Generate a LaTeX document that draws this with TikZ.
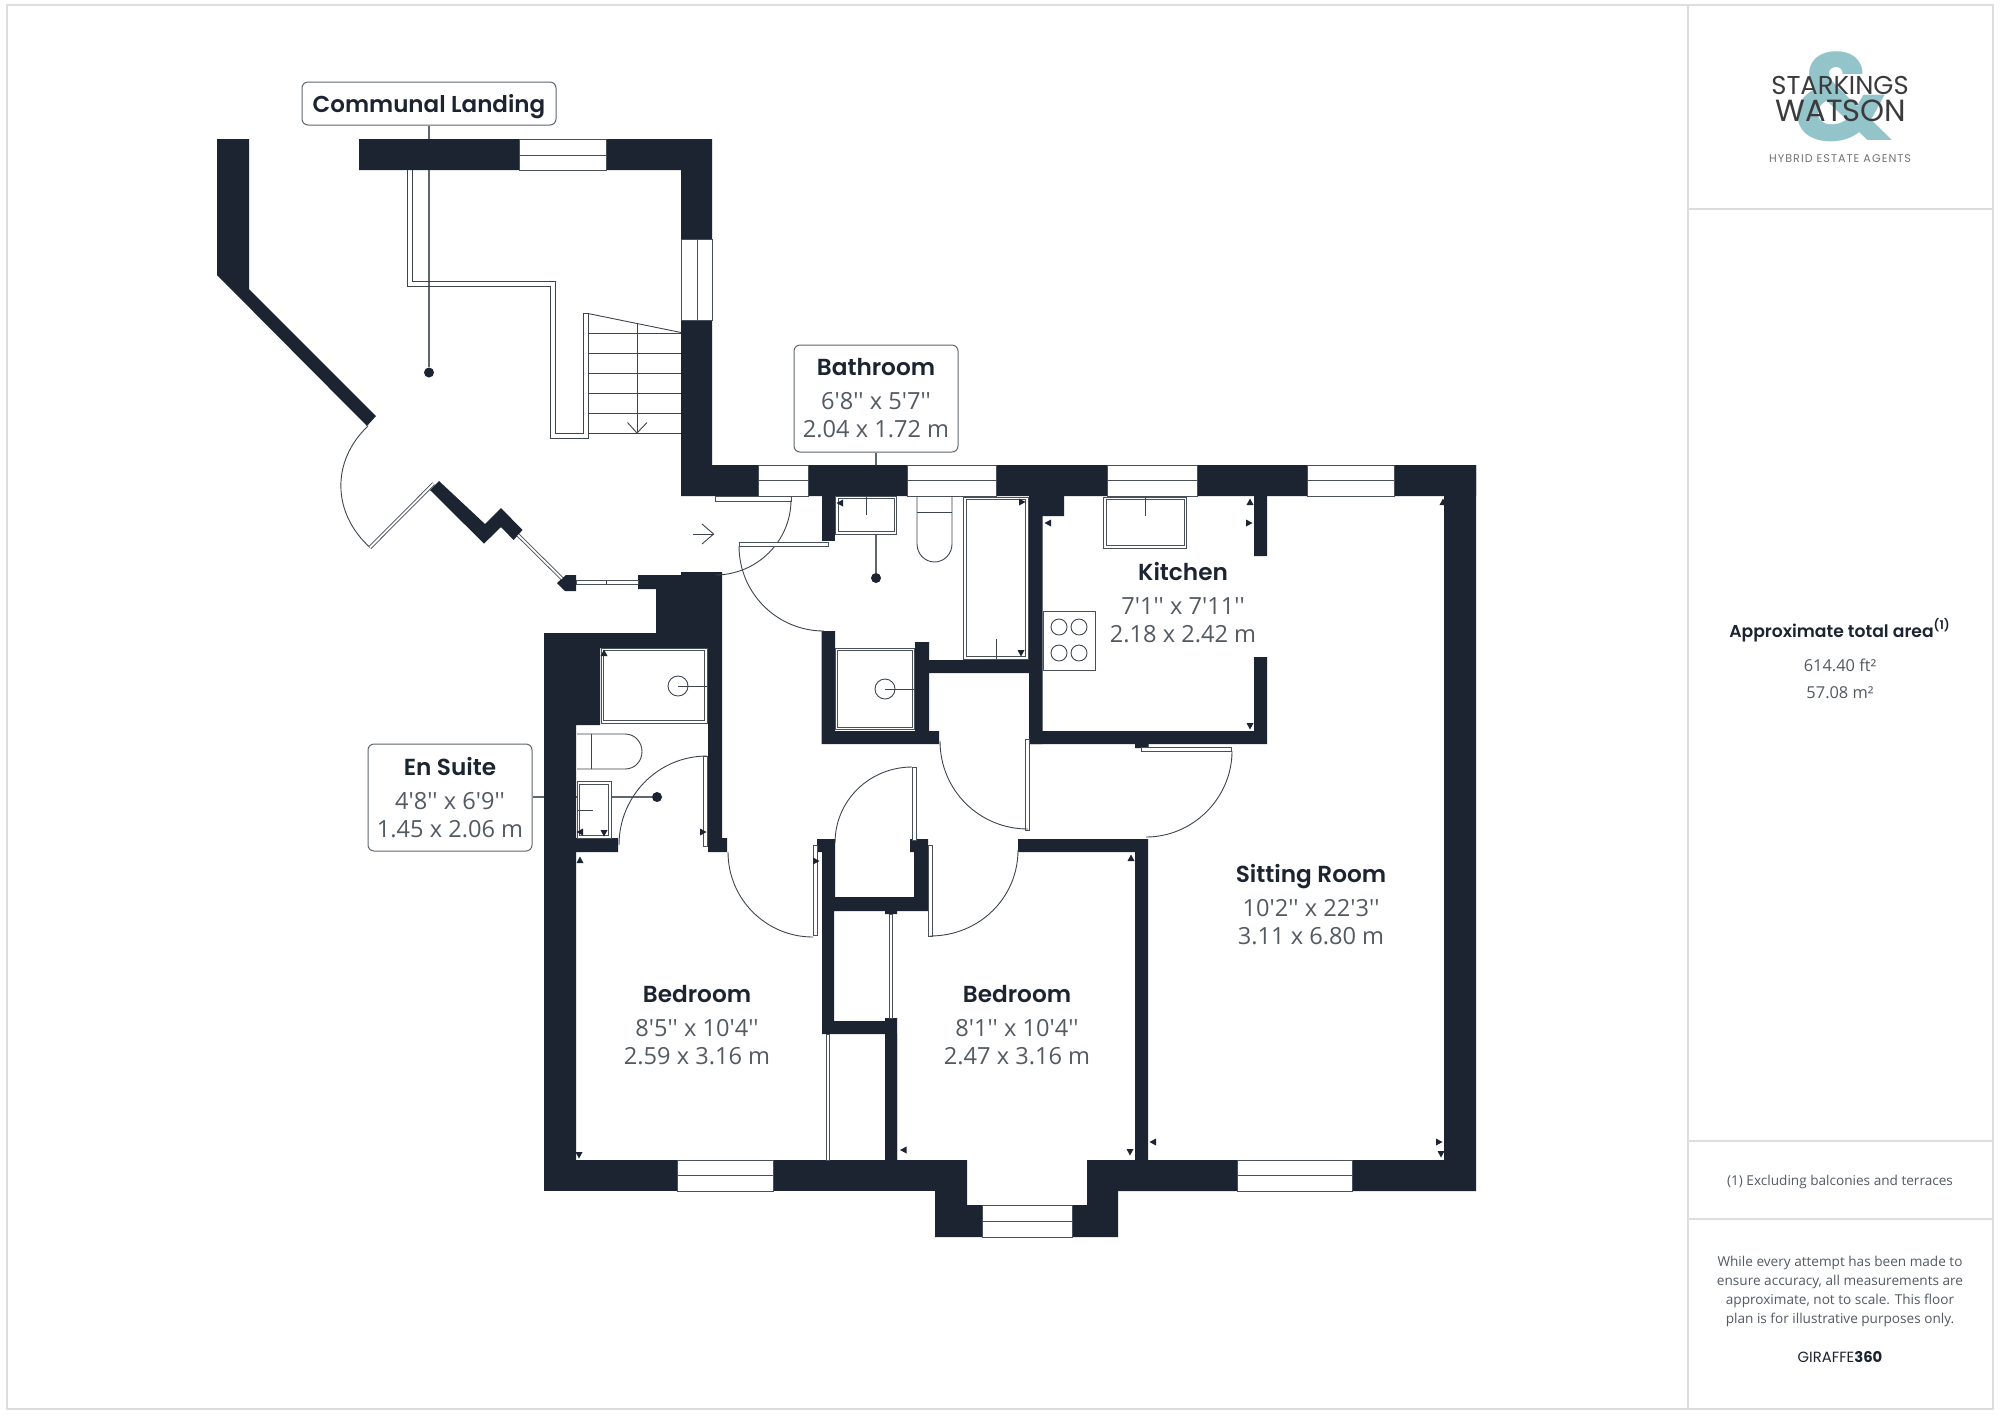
\documentclass[tikz,border=0pt]{standalone}
\usepackage{fontspec}
\setmainfont{Open Sans}
\newfontfamily\dimfont{Open Sans}
\newfontfamily\namefont{Poppins SemiBold}
\newfontfamily\logofont{Poppins}
\newfontfamily\tagfont{Poppins}[LetterSpace=9]
\definecolor{walldark}{HTML}{1B2430}
\definecolor{dimgray}{HTML}{535A62}
\definecolor{framegray}{HTML}{DDDDDD}
\definecolor{logoteal}{HTML}{93C4C9}
\definecolor{logodark}{HTML}{3B3B3D}
\newcommand{\roomtext}[3]{{\namefont\color{walldark}\fontsize{11.6}{14.2}\selectfont#1}\\[2.6pt]{\dimfont\color{dimgray}#2}\\{\dimfont\color{dimgray}#3}}
\tikzset{
  wall/.style={fill=walldark},
  pane/.style={draw=walldark!80,line width=0.45pt,fill=white},
  thinline/.style={draw=walldark!85,line width=0.45pt},
  labelbox/.style={draw=walldark!70,line width=0.5pt,rounded corners=3pt,fill=white,align=center,inner sep=0pt,font=\fontsize{11.8}{14.2}\selectfont},
  roomlabel/.style={align=center,inner sep=0pt,font=\fontsize{11.8}{14.2}\selectfont},
  leader/.style={draw=walldark!70,line width=0.6pt},
  pin/.style={circle,fill=walldark,inner sep=0pt,minimum size=5pt},
  framing/.style={draw=framegray,line width=1pt},
  sidetext/.style={font=\fontsize{6.8}{9.5}\selectfont,text=dimgray,align=center,inner sep=0pt},
  areatext/.style={font=\dimfont\fontsize{8.2}{10}\selectfont,text=dimgray,inner sep=0pt}
}
\begin{document}
\begin{tikzpicture}[x=0.5pt,y=-0.5pt]
\path[use as bounding box,fill=white] (0,0) rectangle (2000,1415);
% page frame
\draw[framing] (7,5) rectangle (1993,1409);
\draw[framing] (1688,5)--(1688,1409);
\draw[framing] (1688,209)--(1993,209);
\draw[framing] (1688,1141)--(1993,1141);
\draw[framing] (1688,1219)--(1993,1219);
% leaders
\node[pin] (landingdot) at (429,372.5) {};
\node[pin] (bathdot) at (876,578) {};
\node[pin] (suitedot) at (657,797) {};
\node[labelbox,text depth=0.5pt,minimum width=127pt,minimum height=21.5pt] (landingbox) at (429,103.5) {{\namefont\fontsize{11.5}{14}\selectfont\color{walldark}Communal Landing}};
\node[labelbox,minimum width=82pt,minimum height=53.5pt] (bathbox) at (876,398.5) {\roomtext{Bathroom}{6'8'' x 5'7''}{2.04 x 1.72 m}};
\node[labelbox,minimum width=82pt,minimum height=53.5pt] (suitebox) at (450,797.5) {\roomtext{En Suite}{4'8'' x 6'9''}{1.45 x 2.06 m}};
\draw[leader] (landingbox) -- (landingdot);
\draw[leader] (bathbox) -- (bathdot);
\draw[leader] (suitebox.east |- suitedot) -- (suitedot);
% walls
\fill[wall] (217,139)--(249,139)--(249,289)--(376,416)--(367,426)--(217,275)--cycle;
\fill[wall] (359,139) rectangle (712,170) (681,139) rectangle (712,496) (681,465) rectangle (1476,496);
\fill[wall] (1444,465) rectangle (1476,1191) (1087,1160) rectangle (1476,1191);
\fill[wall] (935,1160) rectangle (967,1237) (1087,1160) rectangle (1118,1237) (967,1205) rectangle (1087,1237);
\fill[wall] (576,1160) rectangle (967,1191);
\fill[wall] (430,490)--(439,481)--(485,524)--(501,508)--(522.5,530)--(513.6,540)--(501,527)--(484,543.6)--cycle;
\fill[wall] (557,583)--(566,575)--(576,575)--(576,591)--(565,591)--cycle;
% en suite block and left wall
\fill[wall] (544,633)--(656,633)--(656,589)--(638,589)--(638,575)--(681,575)--(681,572)--(722,572)--(722,838)--(727,838)--(727,852)--(708,852)--(708,648)--(600,648)--(600,725)--(576,725)--(576,838)--(618,838)--(618,852)--(576,852)--(576,1160)--(544,1191)--cycle;
\fill[wall] (544,1160) rectangle (576,1191);
% bathroom walls
\fill[wall] (821.5,496) rectangle (835,541);
\fill[wall] (915,642)--(929,642)--(929,660)--(1029,660)--(1029,673)--(929,673)--(929,731)--(939,731)--(939,744)--(821.5,744)--(821.5,631)--(835,631)--(835,731)--(915,731)--cycle;
% kitchen walls
\fill[wall] (1029,496) rectangle (1042.6,744) (1029,496) rectangle (1064,516);
\fill[wall] (1254,496) rectangle (1267,556) (1254,657) rectangle (1267,744) (1029,731) rectangle (1267,744) (1135,744) rectangle (1148.6,748);
% bedroom and cupboard walls
\fill[wall] (817,839)--(835,839)--(835,897)--(914,897)--(914,852)--(910,852)--(910,839)--(928,839)--(928,911)--(834,911)--(834,1021)--(885,1021)--(885,1160)--(897,1160)--(897,1034)--(822,1034)--(822,852)--(817,852)--cycle;
\fill[wall] (885,1018) rectangle (897,1160) (885,911) rectangle (897,914);
\fill[wall] (1018,839) rectangle (1148,852) (1135,839) rectangle (1148,1160);
% windows
\foreach \xa/\xb in {758/808,907/996,1107/1197,1307/1394} {
  \draw[pane] (\xa,465) rectangle (\xb,496);
  \draw[pane] (\xa,480)--(\xb,480);
}
\foreach \xa/\xb in {677/773,1237/1352} {
  \draw[pane] (\xa,1160) rectangle (\xb,1191);
  \draw[pane] (\xa,1175)--(\xb,1175);
}
\draw[pane] (519,139) rectangle (606,170);
\draw[pane] (519,155)--(606,155);
\draw[pane] (982,1205) rectangle (1072,1237);
\draw[pane] (982,1221)--(1072,1221);
\draw[pane] (681,239) rectangle (712,320);
\draw[pane] (697,239)--(697,320);
% landing partition and stairs
\draw[thinline] (407,170)--(407,286)--(550,286)--(550,438)--(588,438)--(588,313.5)--(583,313.5)--(583,433)--(555,433)--(555,281)--(412,281)--(412,170);
\draw[thinline] (588,313.5)--(681,332.5);
\foreach \y in {333.6,353,373,393,413,433} \draw[thinline] (588,\y)--(681,\y);
\draw[thinline] (637,322.5)--(637,433);
\draw[thinline] (627.5,422.5)--(637,433)--(647,422.5);
\draw[thinline] (693,534)--(713.6,534);
\draw[thinline] (702,524)--(713.6,534)--(702,544);
% doors
\draw[thinline] (368,426) .. controls (331,461) and (332,513) .. (370,547.5);
\draw[pane,double=white,double distance=0.9pt] (433.6,483.6)--(370,547.5);
\draw[pane,double=white,double distance=0.9pt] (518,535)--(562,578.6);
\draw[pane] (576,580.5) rectangle (638,584);
\draw[thinline] (606,580.5)--(606,584);
\draw[pane] (715,496) rectangle (791,501);
\draw[thinline] (791,500) .. controls (791,541) and (757,575) .. (715,575);
\draw[pane] (739,542) rectangle (828,546);
\draw[thinline] (739,546) .. controls (739,593) and (777,631) .. (824,631);
\draw[pane] (703.6,756) rectangle (707.5,846);
\draw[thinline] (707,756) .. controls (658,756) and (619,796) .. (619,845);
\draw[pane] (813,845) rectangle (817,935);
\draw[thinline] (728,852) .. controls (728,899) and (766,937) .. (813,937);
\draw[pane] (912,767) rectangle (916,840);
\draw[thinline] (835,843) .. controls (835,800) and (870,767) .. (912,767);
\draw[pane] (1025,739) rectangle (1029,830);
\draw[thinline] (940,741) .. controls (940,790) and (979,829) .. (1028,829);
\draw[pane] (928,845) rectangle (932,936);
\draw[thinline] (1018,850) .. controls (1018,898) and (979,936) .. (930,936);
\draw[pane] (1141.5,747) rectangle (1231,751);
\draw[thinline] (1232,751) .. controls (1232,798) and (1193,837) .. (1146,837);
\draw[pane] (826.5,1034) rectangle (829.5,1160);
\draw[pane] (889.5,914) rectangle (892.5,1018);
% fittings
\draw[pane] (835,496) rectangle (896,534);
\draw[pane] (838,498) rectangle (894,531);
\draw[thinline] (866,497)--(866,515);
\draw[thinline] (917,496)--(917,544) .. controls (917,554) and (925,562) .. (934.5,562) .. controls (944,562) and (952,554) .. (952,544)--(952,496);
\draw[thinline] (917,512)--(952,512);
\draw[pane] (963,497) rectangle (1028,659);
\draw[pane] (966,499) rectangle (1025.6,656);
\draw[thinline] (996,639)--(996,659);
\draw[pane] (835,648) rectangle (914.5,729);
\draw[pane] (837.5,650.5) rectangle (912.5,727);
\draw[thinline] (885,689) circle (10);
\draw[thinline] (885,689)--(915,689);
\draw[pane] (1103,497) rectangle (1186.5,548);
\draw[pane] (1106,499) rectangle (1184,545);
\draw[thinline] (1145,497)--(1145,516);
\draw[pane] (1043,611) rectangle (1095,670);
\foreach \x in {1059,1079} \foreach \y in {627,653} \draw[thinline] (\x,\y) circle (8);
\draw[pane] (601,648) rectangle (707,723);
\draw[pane] (603.5,650.5) rectangle (704.5,720.5);
\draw[thinline] (678,686) circle (10);
\draw[thinline] (678,686)--(708,686);
\draw[thinline] (577,734)--(625,734) .. controls (635,734) and (642,742) .. (642,751.5) .. controls (642,761) and (635,769) .. (625,769)--(577,769);
\draw[thinline] (591.5,734)--(591.5,769);
\draw[pane] (577,781) rectangle (611,838);
\draw[pane] (579,784) rectangle (608,835);
\draw[thinline] (577,810)--(593,810);
% small markers
\foreach \x/\y/\a in {840/503/180,1022/502/0,1021/653/270,1048/523/180,1250/502/90,1249/523/0,1250/726/270,604/653/90,580/832/180,604/833/270,703/832/0,580/860/90,816/861/0,579/1155/270,903.5/1150/180,1130/1152/270,1153/1142/180,1439/1142/0,1441/1154/270,1131/858/90,1443/502/90}
  \fill[wall,shift={(\x,\y)},rotate=\a] (3.5,0)--(-3,3.5)--(-3,-3.5)--cycle;
% room labels
\node[roomlabel] (kitchenlabel) at (1183,603) {\roomtext{Kitchen}{7'1'' x 7'11''}{2.18 x 2.42 m}};
\node[roomlabel] (sittinglabel) at (1311,905) {\roomtext{Sitting Room}{10'2'' x 22'3''}{3.11 x 6.80 m}};
\node[roomlabel] (bedroomleft) at (697,1025) {\roomtext{Bedroom}{8'5'' x 10'4''}{2.59 x 3.16 m}};
\node[roomlabel] (bedroomright) at (1017,1025) {\roomtext{Bedroom}{8'1'' x 10'4''}{2.47 x 3.16 m}};
% logo
\node[inner sep=0pt,text=logoteal] (logoamp) at (1843,97) {\logofont\bfseries\fontsize{62}{62}\selectfont\&};
\node[inner sep=0pt,text=logodark] (logotop) at (1840,85) {\logofont\fontsize{12.9}{14}\selectfont STARKINGS};
\node[inner sep=0pt,text=logodark] (logobottom) at (1841,111) {\logofont\fontsize{15.3}{17}\selectfont WATSON};
\node[inner sep=0pt,text=black!55] (logotag) at (1840,159) {\tagfont\fontsize{5.6}{7}\selectfont HYBRID ESTATE AGENTS};
% side panel
\node[inner sep=0pt,text=walldark] (areatitle) at (1840,630) {\namefont\fontsize{8.6}{10}\selectfont Approximate total area\textsuperscript{(1)}};
\node[areatext] (areaft) at (1840,665) {614.40 ft²};
\node[areatext] (aream) at (1840,693) {57.08 m²};
\node[sidetext] (excluding) at (1840,1182) {(1) Excluding balconies and terraces};
\node[sidetext] (disclaimer) at (1840,1291.5) {While every attempt has been made to\\ensure accuracy, all measurements are\\approximate, not to scale. This floor\\plan is for illustrative purposes only.};
\node[inner sep=0pt,text=walldark] (giraffe) at (1840,1357) {\logofont\fontsize{7.4}{9}\selectfont GIRAFFE{\bfseries 360}};
\end{tikzpicture}
\end{document}
